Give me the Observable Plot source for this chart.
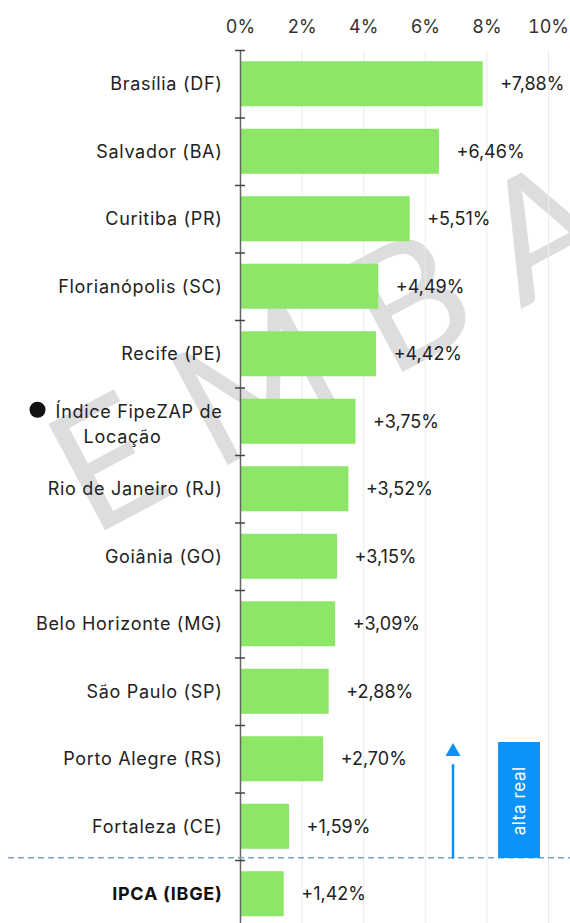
<!DOCTYPE html>
<html><head><meta charset="utf-8">
<script src="https://cdn.jsdelivr.net/npm/d3@7"></script>
<script src="https://cdn.jsdelivr.net/npm/@observablehq/plot@0.6"></script>
<style>body{margin:0;background:#fff}</style>
</head><body><div id="chart"></div>
<script>
const cities = ["Brasília (DF)", "Salvador (BA)", "Curitiba (PR)", "Florianópolis (SC)", "Recife (PE)", "Índice FipeZAP de Locação", "Rio de Janeiro (RJ)", "Goiânia (GO)", "Belo Horizonte (MG)", "São Paulo (SP)", "Porto Alegre (RS)", "Fortaleza (CE)", "IPCA (IBGE)"];
const values = [7.88, 6.46, 5.51, 4.49, 4.42, 3.75, 3.52, 3.15, 3.09, 2.88, 2.70, 1.59, 1.42];
const xTicks = [0, 2, 4, 6, 8, 10];
const indexLabel = "Índice FipeZAP de Locação";
const indexLines = ["Índice FipeZAP de", "Locação"];
const benchmark = "IPCA (IBGE)";
const arrowX = [6.9];
const annotationBox = [8.38, 9.74];
const annotationText = "alta real";
const watermark = "EMBARGADO";

const data = cities.map((c, i) => ({city: c, value: values[i]}));
const fmt = v => "+" + v.toFixed(2).replace(".", ",") + "%";
const font = "Inter, 'Noto Sans', sans-serif";
const green = "#8de667";
const blue = "#0b93fb";
const plainCities = cities.filter(c => c !== indexLabel && c !== benchmark);

const chart = Plot.plot({
  width: 570, height: 923,
  marginTop: 50, marginLeft: 240, marginRight: 22, marginBottom: 0,
  style: {fontFamily: font, fontSize: "18px", color: "#222", background: "#fff"},
  x: {domain: [0, 10]},
  y: {domain: cities, range: [38.75, 938.75], padding: 0.333, round: false},
  marks: [
    Plot.text([watermark], {text: d => d, frameAnchor: "top-left", dx: -149, dy: 487, rotate: -28,
      fontSize: 168, fontWeight: 400, fontFamily: "Lato, Inter, sans-serif", fill: "#dddddd", textAnchor: "start", lineAnchor: "bottom"}),
    Plot.gridX(xTicks, {stroke: "#ebebeb", strokeOpacity: 1, strokeWidth: 1}),
    Plot.axisX({ticks: xTicks, anchor: "top", tickSize: 0, tickPadding: 18, tickFormat: d => d + "%", fontSize: 18, fill: "#333", label: null}),
    Plot.barX(data, {x: "value", y: "city", fill: green}),
    Plot.ruleX([0], {stroke: "#666", strokeWidth: 1.5}),
    Plot.axisY({ticks: cities, tickSize: 10, dx: 5, dy: -33.75, tickFormat: () => "", stroke: "#444", strokeWidth: 1.5, label: null}),
    Plot.axisY({ticks: plainCities, tickSize: 0, tickPadding: 18, fontSize: 18, fill: "#222", label: null}),
    Plot.axisY({ticks: [benchmark], tickSize: 0, tickPadding: 18, fontSize: 18, fontWeight: "bold", fill: "#111", label: null}),
    Plot.text([indexLabel], {y: d => d, text: () => indexLines[0], frameAnchor: "left", dx: -18, dy: -10, textAnchor: "end", fontSize: 18, fill: "#222"}),
    Plot.text([indexLabel], {y: d => d, text: () => indexLines[1], frameAnchor: "left", dx: -118, dy: 15, textAnchor: "middle", fontSize: 18, fill: "#222"}),
    Plot.dot([indexLabel], {y: d => d, frameAnchor: "left", dx: -203, dy: -12, r: 8, fill: "#111", stroke: null}),
    Plot.text(data, {x: "value", y: "city", text: d => fmt(d.value), dx: 17, textAnchor: "start", fontSize: 18, fill: "#222"}),
    Plot.ruleY([benchmark], {y: d => d, dy: -36.5, insetLeft: -232, insetRight: -30, stroke: "#7d9fd0", strokeDasharray: "6,4", strokeWidth: 1.5}),
    Plot.barX([annotationBox], {x1: d => d[0], x2: d => d[1], y: () => "Fortaleza (CE)", fill: blue, insetTop: -61.75, insetBottom: -9.25}),
    Plot.text([annotationText], {x: () => (annotationBox[0] + annotationBox[1]) / 2, y: () => "Fortaleza (CE)", text: d => d, dy: -26, rotate: -90, fill: "white", fontSize: 17}),
    Plot.arrow(arrowX, {x1: d => d, x2: d => d, y1: () => "Fortaleza (CE)", y2: () => "Porto Alegre (RS)", insetStart: -30.75, insetEnd: 6, headLength: 0, stroke: blue, strokeWidth: 2.5}),
    Plot.dot(arrowX, {x: d => d, y: () => "Porto Alegre (RS)", symbol: "triangle", r: 5.6, fill: blue, stroke: null, dy: -7.5})
  ]
});
const labelSet = new Set([...cities, ...indexLines]);
d3.select(chart).selectAll("text").each(function() {
  const t = this.textContent;
  if (t === watermark) this.setAttribute("letter-spacing", "42");
  else if (labelSet.has(t)) this.setAttribute("letter-spacing", "0.7");
  else if (t === annotationText) this.setAttribute("letter-spacing", "0.6");
});
document.getElementById("chart").appendChild(chart);
</script>
</body></html>
